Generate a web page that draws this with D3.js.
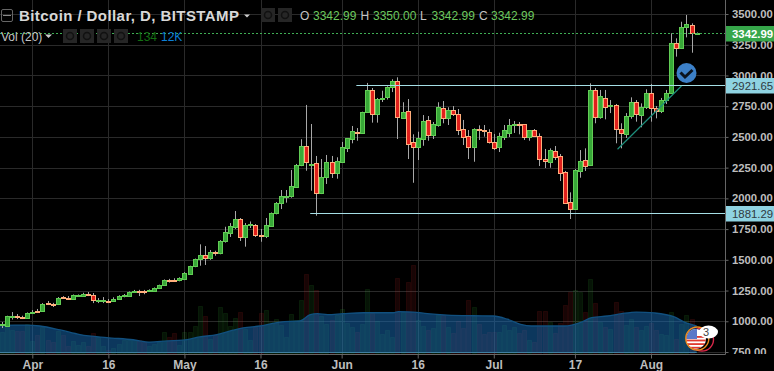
<!DOCTYPE html>
<html><head><meta charset="utf-8">
<script src="https://cdn.jsdelivr.net/npm/d3@7"></script>
<style>html,body{margin:0;padding:0;background:#000;overflow:hidden}svg{display:block}text{font-family:"Liberation Sans",Arial,sans-serif}</style>
</head><body><svg id="c" width="774" height="371"></svg>
<script>
const firstDay=-6;
const opens=[969,959,1040,1043,1035,1028,1067,1082,1081,1146,1142,1138,1197,1193,1183,1209,1209,1225,1212,1168,1168,1168,1165,1183,1207,1205,1243,1247,1245,1247,1249,1273,1292,1335,1332,1338,1346,1387,1447,1504,1537,1517,1565,1553,1653,1721,1769,1830,1688,1786,1781,1704,1696,1777,1878,1960,2017,2017,2090,2269,2424,2275,2285,2041,2171,2293,2204,2298,2412,2485,2540,2529,2700,2882,2684,2806,2822,2904,2955,2656,2708,2456,2420,2483,2635,2518,2599,2733,2656,2717,2684,2562,2505,2420,2567,2553,2537,2461,2420,2502,2534,2596,2606,2603,2502,2554,2505,2323,2298,2385,2342,2212,1968,1916,2225,2310,2269,2882,2664,2819,2751,2757,2562,2524,2668,2782,2681,2741,2855,2733,2708,2798,2855,3262,3221,3392,3408,3342.99];
const highs=[994,1045,1075,1059,1045,1072,1091,1100,1148,1165,1150,1197,1205,1205,1218,1218,1232,1238,1230,1189,1197,1181,1195,1212,1222,1243,1255,1256,1255,1260,1275,1298,1340,1345,1350,1358,1400,1452,1510,1626,1612,1580,1574,1660,1769,1799,1897,1840,1799,1812,1791,1751,1840,1885,1970,2068,2068,2231,2280,2481,2760,2605,2345,2320,2353,2345,2334,2459,2489,2589,2572,2705,2939,2898,2817,2876,2912,2969,2985,2782,2808,2521,2542,2678,2670,2621,2782,2792,2741,2751,2727,2638,2556,2570,2594,2597,2562,2524,2534,2597,2646,2629,2621,2605,2556,2564,2529,2402,2407,2426,2361,2223,2049,2239,2393,2407,2936,2898,2882,2882,2800,2768,2611,2694,2822,2800,2773,2887,2931,2751,2817,2882,3343,3302,3437,3492,3424,3350];
const lows=[945,955,1014,1018,1018,1026,1059,1067,1079,1132,1116,1132,1189,1181,1180,1200,1205,1205,1148,1148,1148,1148,1160,1180,1195,1200,1235,1205,1220,1240,1245,1270,1288,1315,1320,1325,1335,1380,1440,1452,1458,1500,1533,1545,1640,1686,1751,1653,1607,1759,1686,1647,1677,1767,1870,1913,1965,2005,2085,2262,2225,2062,1859,2035,2117,2166,2160,2290,2377,2448,2469,2525,2695,2616,2616,2784,2804,2865,2483,2650,2320,2127,2312,2428,2469,2483,2583,2611,2597,2670,2515,2434,2320,2298,2475,2502,2446,2393,2377,2475,2499,2532,2521,2475,2469,2499,2263,2247,2249,2312,2141,1958,1832,1909,2168,2223,2263,2611,2648,2643,2694,2448,2407,2491,2648,2624,2578,2727,2624,2651,2694,2768,2849,3153,3215,3310,3185,3342.99];
const closes=[975,1040,1043,1035,1028,1067,1072,1077,1143,1142,1134,1192,1193,1187,1211,1213,1222,1218,1170,1172,1172,1162,1185,1205,1212,1238,1248,1241,1238,1252,1271,1295,1333,1330,1328,1352,1393,1447,1504,1537,1512,1561,1555,1653,1724,1772,1830,1688,1781,1790,1702,1698,1781,1878,1960,2017,2022,2098,2269,2424,2293,2282,2041,2176,2293,2204,2301,2415,2489,2546,2532,2700,2882,2684,2806,2816,2904,2955,2664,2700,2445,2420,2489,2627,2518,2603,2741,2656,2717,2684,2559,2502,2420,2562,2560,2547,2461,2412,2505,2554,2594,2601,2601,2502,2554,2505,2323,2306,2391,2339,2209,1965,1916,2228,2301,2266,2882,2664,2830,2746,2757,2562,2529,2668,2782,2684,2741,2855,2733,2708,2798,2855,3262,3221,3392,3416,3346,3342.99];
const volumes=[9.0,11.2,9.9,9.5,9.5,12.5,5.2,7.7,11.2,5.6,4.7,9.5,7.7,3.0,5.2,3.4,4.7,3.0,8.6,6.9,3.0,1.3,2.2,3.9,5.6,5.6,5.6,5.6,4.7,3.0,3.9,4.7,9.0,6.9,8.6,3.4,9.0,9.0,11.6,20.2,15.9,6.0,7.7,19.8,17.2,11.6,15.1,17.6,10.3,5.6,11.2,17.2,18.5,13.3,14.6,12.0,6.9,16.8,14.2,22.8,34.0,29.2,27.1,15.9,12.5,14.2,16.3,18.9,12.9,11.2,9.0,12.5,27.5,17.2,13.8,8.2,9.9,6.9,32.3,17.6,30.5,37.8,14.2,11.6,9.9,10.8,16.3,16.3,11.2,8.6,13.8,10.8,22.8,19.8,12.5,8.2,9.0,9.0,9.0,12.0,9.9,11.2,8.6,9.9,5.6,4.7,18.1,18.1,13.3,8.6,12.9,20.6,26.2,27.1,26.2,17.6,31.8,21.5,13.3,11.2,10.3,21.9,18.1,12.0,14.6,11.2,9.9,11.6,12.9,9.9,8.2,7.7,17.6,6.0,12.5,16.3,14.6,0.134];
const maDays=[-6.4,-1,1.5,5.5,9.4,14.7,19.9,23.2,26.6,29.7,33,36.4,39.6,41.6,44.9,48.9,52.8,54.8,56.2,58.2,61.3,65.3,71.2,72.2,75.1,77.9,81.8,87,90.9,93.7,96.3,98.4,104.9,108.3,110.3,113.4,116.2,119.1,122.7,126.6,128.6,131];
const maValues=[11.9,12.0,11.6,9.9,7.9,6.6,5.7,4.7,5.2,5.5,6.9,7.9,9.8,10.8,11.6,13.3,13.8,16.5,16.9,16.5,16.9,17.3,17.3,17.8,17.6,16.9,16.3,16,15.9,14.5,12.3,11.6,11.6,13.3,15.2,15.9,16.9,17.6,17.2,15.5,13.3,11.6];
const priceTicks=[750,1000,1250,1500,1750,2000,2250,2500,2750,3000,3250,3500];
const timeDays=[0,15,30,45,61,76,91,107,122];
const timeLabels=["Apr","16","May","16","Jun","16","Jul","17","Aug"];
const levels=[2921.65,1881.29];
const levelStarts=[63.9,54.8];
const trendDays=[115.4,128],trendPrices=[2400,2914];
const lastPrice=3342.99;

const svg=d3.select("#c");
const W=774,H=371,axisX=725.5,axisY=354.5;
const x=d3.scaleLinear().domain([0,122]).range([32.3,651]);
const y=d3.scaleLinear().domain([750,3500]).range([352,14]);
const v=d3.scaleLinear().domain([0,37.8]).range([353,265]);
const px=d=>Math.round(x(d))+.5;
const grid=svg.append("g").attr("stroke","#2a2a2a").attr("stroke-width",1);
grid.selectAll("line.h").data(priceTicks).join("line").attr("x1",0).attr("x2",axisX).attr("y1",d=>Math.round(y(d))+.5).attr("y2",d=>Math.round(y(d))+.5);
grid.selectAll("line.v").data(timeDays,d=>d).join("line").attr("y1",0).attr("y2",axisY).attr("x1",d=>px(d)).attr("x2",d=>px(d));

const days=d3.range(opens.length).map(i=>i+firstDay);
const isUp=i=>closes[i]>=opens[i];
// volume bars
svg.append("g").selectAll("rect").data(days).join("rect")
 .attr("x",(d,i)=>px(d)-2).attr("width",4)
 .attr("y",(d,i)=>Math.round(v(volumes[i]))+.5).attr("height",(d,i)=>Math.max(0,353-Math.round(v(volumes[i]))))
 .attr("fill",(d,i)=>isUp(i)?"rgba(60,200,60,.10)":"rgba(220,50,50,.11)")
 .attr("stroke",(d,i)=>isUp(i)?"rgba(60,200,60,.10)":"rgba(220,50,50,.11)");
// volume MA
const maPts=maDays.map((d,i)=>[x(d),v(maValues[i])]);
svg.append("path").attr("d",d3.area().x(p=>p[0]).y1(p=>p[1]).y0(353).curve(d3.curveMonotoneX)(maPts)).attr("fill","rgba(25,115,195,.48)");
svg.append("path").attr("d",d3.line().x(p=>p[0]).y(p=>p[1]).curve(d3.curveMonotoneX)(maPts)).attr("fill","none").attr("stroke","#11507f").attr("stroke-width",1.3);
svg.append("line").attr("x1",0).attr("x2",maPts[maPts.length-1][0]).attr("y1",352.5).attr("y2",352.5).attr("stroke","#3f7fa0");

// wicks & bodies
svg.append("g").selectAll("line").data(days).join("line").attr("x1",d=>px(d)).attr("x2",d=>px(d))
 .attr("y1",(d,i)=>y(highs[i])).attr("y2",(d,i)=>y(lows[i])).attr("stroke","#a8a8a8");
svg.append("g").selectAll("rect").data(days).join("rect")
 .attr("x",d=>px(d)-2).attr("width",4)
 .attr("y",(d,i)=>Math.round(y(Math.max(opens[i],closes[i])))+.5)
 .attr("height",(d,i)=>Math.max(1,Math.round(y(Math.min(opens[i],closes[i])))-Math.round(y(Math.max(opens[i],closes[i])))))
 .attr("fill",(d,i)=>isUp(i)?"#38a838":"#e0201c")
 .attr("stroke",(d,i)=>isUp(i)?"#62cc55":"#ffae7c");

// level lines & trend
svg.append("g").selectAll("line").data(levels).join("line")
 .attr("x1",(d,i)=>x(levelStarts[i])).attr("x2",axisX).attr("y1",d=>Math.round(y(d))+.5).attr("y2",d=>Math.round(y(d))+.5).attr("stroke","#a5dfe6");
svg.append("line").attr("x1",x(trendDays[0])).attr("x2",x(trendDays[1])).attr("y1",y(trendPrices[0])).attr("y2",y(trendPrices[1])).attr("stroke","#1d8f7c").attr("stroke-width",1.2);
svg.append("line").attr("x1",0).attr("x2",axisX).attr("y1",Math.round(y(lastPrice))+.5).attr("y2",Math.round(y(lastPrice))+.5).attr("stroke","#3fae55").attr("stroke-dasharray","2 2");

// badge
const b=svg.append("g");
b.append("circle").attr("cx",686.5).attr("cy",73).attr("r",10).attr("fill","#3c80c8");
b.append("path").attr("d","M680.5 72.5l4.5 4.5 7.5-7").attr("fill","none").attr("stroke","#0b1420").attr("stroke-width",3);

// flag marker
const defs=svg.append("defs");
defs.append("clipPath").attr("id","fc").append("circle").attr("cx",696).attr("cy",339).attr("r",10);
svg.append("circle").attr("cx",702).attr("cy",339.5).attr("r",11.5).attr("fill","none").attr("stroke","#d8284a").attr("stroke-width",1.4);
const f=svg.append("g").attr("clip-path","url(#fc)");
f.append("rect").attr("x",686).attr("y",329).attr("width",20).attr("height",20).attr("fill","#fff");
d3.range(4).forEach(i=>f.append("rect").attr("x",686).attr("y",336+i*3.6).attr("width",20).attr("height",1.8).attr("fill","#e0392f"));
f.append("rect").attr("x",686).attr("y",329).attr("width",11).attr("height",10).attr("fill","#5a78c8");
svg.append("circle").attr("cx",697.3).attr("cy",338.5).attr("r",11.5).attr("fill","none").attr("stroke","#f08c1e").attr("stroke-width",1.4);
svg.append("ellipse").attr("cx",708.5).attr("cy",332).attr("rx",9.5).attr("ry",6.5).attr("fill","#fff");
svg.append("text").attr("x",706).attr("y",336).attr("text-anchor","middle").attr("font-size",11).attr("fill","#444").text("3");

// axes
svg.append("rect").attr("x",axisX).attr("y",0).attr("width",W-axisX).attr("height",H).attr("fill","#000");
svg.append("rect").attr("x",0).attr("y",axisY).attr("width",axisX).attr("height",H-axisY).attr("fill","#000");
const rA=d3.axisRight(y).tickValues(priceTicks).tickSize(3).tickPadding(3.5).tickFormat(d3.format(".2f"));
const gR=svg.append("g").attr("transform",`translate(${axisX},0)`).call(rA);
const bA=d3.axisBottom(x).tickValues(timeDays).tickSize(4).tickPadding(2).tickFormat((d,i)=>timeLabels[i]);
const gB=svg.append("g").attr("transform",`translate(0,${axisY})`).call(bA);
[gR,gB].forEach(g=>{g.select(".domain").remove();g.selectAll("line").attr("stroke","#666");g.selectAll("text").attr("fill","#bdbdbd").attr("font-weight",700).style("font-family",'"Liberation Sans",Arial,sans-serif');});
gR.selectAll("text").attr("font-size",11.3);
gB.selectAll("text").attr("font-size",12);
svg.append("rect").attr("x",725).attr("y",354).attr("width",49).attr("height",17).attr("fill","#000");
svg.append("line").attr("x1",axisX).attr("x2",axisX).attr("y1",0).attr("y2",axisY).attr("stroke","#666");
svg.append("line").attr("x1",0).attr("x2",axisX).attr("y1",axisY).attr("y2",axisY).attr("stroke","#666");

// price labels
const tagFill=[{v:lastPrice,bg:"#36a64a",fg:"#fff",w:700},{v:levels[0],bg:"#8fd3e2",fg:"#2f3a40",w:400},{v:levels[1],bg:"#8fd3e2",fg:"#2f3a40",w:400}];
tagFill.forEach(t=>{const yy=Math.round(y(t.v));
 svg.append("rect").attr("x",726).attr("y",yy-7).attr("width",48).attr("height",15.5).attr("fill",t.bg);
 svg.append("text").attr("x",732).attr("y",yy+5).attr("font-size",11.4).attr("font-weight",t.w).attr("fill",t.fg).text(d3.format(".2f")(t.v));});

// legend
const T=(s,xx,yy,size,col,w)=>svg.append("text").attr("x",xx).attr("y",yy).attr("font-size",size).attr("fill",col).attr("font-weight",w||400).text(s);
svg.append("rect").attr("x",1.5).attr("y",9.5).attr("width",11).attr("height",12).attr("rx",1.5).attr("fill","none").attr("stroke","#666");
svg.append("line").attr("x1",3).attr("x2",11).attr("y1",15.5).attr("y2",15.5).attr("stroke","#888");
T("Bitcoin / Dollar, D, BITSTAMP",19,21,15,"#d8d8d8",700).attr("textLength",220);
svg.append("path").attr("d","M244 14.5h6l-3 3z").attr("fill","#ccc");
T("Vol (20)",1,41,12,"#c4c4c4");
svg.append("path").attr("d","M45 34.5h7l-3.5 3.5z").attr("fill","#ccc");
[63,80,97,114].forEach(bx=>svg.append("rect").attr("x",bx).attr("y",29).attr("width",14).attr("height",14).attr("fill","#262626"));
[261,278].forEach(bx=>svg.append("rect").attr("x",bx).attr("y",8).attr("width",14).attr("height",14).attr("fill","#262626"));
[[70,36],[87,36],[104,36],[121,36],[268,15],[285,15]].forEach(p=>svg.append("circle").attr("cx",p[0]).attr("cy",p[1]).attr("r",3.5).attr("fill","none").attr("stroke","#111").attr("stroke-width",1.5));
T("134",137,41,12,"#136e13");
T("12K",161,41,12,"#0d7fd6");
[["O",300,"3342.99",313],["H",360.5,"3350.00",373],["L",420,"3342.99",431.5],["C",479,"3342.99",491]].forEach(r=>{T(r[0],r[1],20,12,"#c4c4c4");T(r[2],r[3],20,12,"#6cc85e");});
</script></body></html>
